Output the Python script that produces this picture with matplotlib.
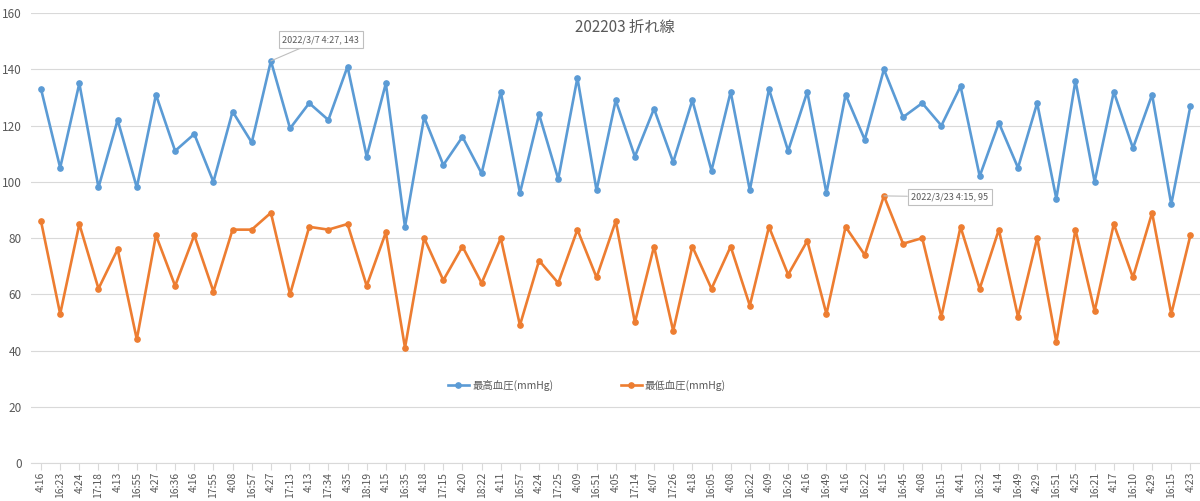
import matplotlib
matplotlib.use("Agg")
import matplotlib.pyplot as plt

plt.rcParams['font.family'] = ['Noto Sans CJK JP', 'DejaVu Sans']

title = "202203 折れ線"
series_names = ["最高血圧(mmHg)", "最低血圧(mmHg)"]

times = ["4:16", "16:23", "4:24", "17:18", "4:13", "16:55", "4:27", "16:36", "4:16", "17:55",
         "4:08", "16:57", "4:27", "17:13", "4:13", "17:34", "4:35", "18:19", "4:15", "16:35",
         "4:18", "17:15", "4:20", "18:22", "4:11", "16:57", "4:24", "17:25", "4:09", "16:51",
         "4:05", "17:14", "4:07", "17:26", "4:18", "16:05", "4:08", "16:22", "4:09", "16:26",
         "4:16", "16:49", "4:16", "16:22", "4:15", "16:45", "4:08", "16:15", "4:41", "16:32",
         "4:14", "16:49", "4:29", "16:51", "4:25", "16:21", "4:17", "16:10", "4:29", "16:15",
         "4:23"]

high = [133, 105, 135, 98, 122, 98, 131, 111, 117, 100,
        125, 114, 143, 119, 128, 122, 141, 109, 135, 84,
        123, 106, 116, 103, 132, 96, 124, 101, 137, 97,
        129, 109, 126, 107, 129, 104, 132, 97, 133, 111,
        132, 96, 131, 115, 140, 123, 128, 120, 134, 102,
        121, 105, 128, 94, 136, 100, 132, 112, 131, 92,
        127]

low = [86, 53, 85, 62, 76, 44, 81, 63, 81, 61,
       83, 83, 89, 60, 84, 83, 85, 63, 82, 41,
       80, 65, 77, 64, 80, 49, 72, 64, 83, 66,
       86, 50, 77, 47, 77, 62, 77, 56, 84, 67,
       79, 53, 84, 74, 95, 78, 80, 52, 84, 62,
       83, 52, 80, 43, 83, 54, 85, 66, 89, 53,
       81]

# annotated points: (series, index, date text)
callouts = [(high, 12, "2022/3/7"), (low, 44, "2022/3/23")]
callout_offsets = [(36, 15.5), (47.5, -0.7)]

blue = "#5B9BD5"
orange = "#ED7D31"
grid = "#D9D9D9"
txt = "#595959"

fig = plt.figure(figsize=(12, 5.01), dpi=100)
ax = fig.add_axes([0.0262, 0.0758, 0.9738, 0.898])

x = list(range(len(times)))
ax.plot(x, high, color=blue, lw=1.9, marker="o", ms=3.8, label=series_names[0], zorder=3)
ax.plot(x, low, color=orange, lw=1.9, marker="o", ms=3.8, label=series_names[1], zorder=3)

ax.set_xlim(-0.5, len(times) - 0.5)
ax.set_ylim(0, 160)
ax.set_yticks(range(0, 161, 20))
ax.yaxis.grid(True, color=grid, lw=0.8)
ax.set_axisbelow(True)
for s in ["top", "right", "left"]:
    ax.spines[s].set_visible(False)
ax.spines["bottom"].set_color(grid)
ax.spines["bottom"].set_linewidth(0.8)

ax.set_xticks(x)
ax.set_xticklabels(times, rotation=90)
ax.tick_params(axis="x", colors=grid, length=5, width=0.8, pad=1.5, labelsize=7.5, labelcolor=txt)
ax.tick_params(axis="y", length=0, pad=7, labelsize=8.5, labelcolor=txt)

ax.set_title(title, color=txt, fontsize=11, x=0.508, y=0.94)

for (ser, i, d), off in zip(callouts, callout_offsets):
    ax.annotate(f"{d} {times[i]}, {ser[i]}", xy=(i, ser[i]), xytext=off,
                textcoords="offset points", ha="center", va="center",
                fontsize=6.5, color=txt,
                bbox=dict(boxstyle="square,pad=0.4", fc="white", ec="#BFBFBF", lw=0.8),
                arrowprops=dict(arrowstyle="-", color="#BFBFBF", lw=0.8, shrinkA=0, shrinkB=0),
                zorder=4)

fig.legend(loc="center", bbox_to_anchor=(587 / 1200, 1 - 385 / 501), ncol=2,
           frameon=False, fontsize=7.5, labelcolor=txt, columnspacing=6.5,
           handlelength=2.0, handletextpad=0.3)

fig.savefig("out.png", dpi=100)
